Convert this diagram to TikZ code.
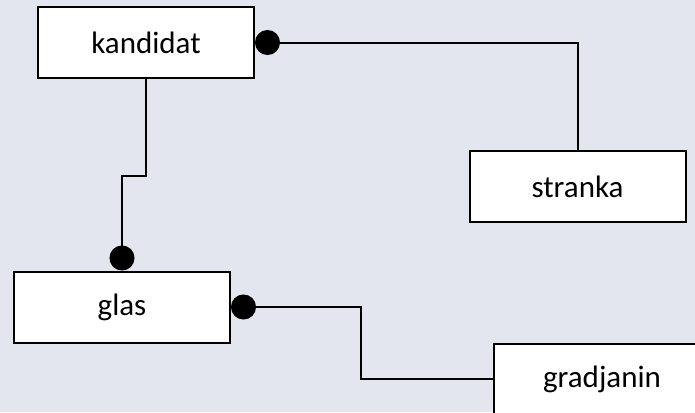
\documentclass[tikz,border=0pt]{standalone}
\usepackage{fontspec}
\setmainfont{Carlito}
\usetikzlibrary{arrows.meta}

\begin{document}
\begin{tikzpicture}[x=0.5pt, y=-0.5pt,
    entity/.style={draw, line width=1pt, fill=white, minimum width=108pt,
      minimum height=35.5pt, inner sep=0pt, font=\fontsize{15.5}{18}\selectfont},
    dotend/.style={line width=1pt, -{Circle[length=12.5pt]}}]
  % 背景与裁剪
  \fill[fill={rgb,255:red,228;green,230;blue,239}] (0,0) rectangle (695,412);
  \useasboundingbox (0,0) rectangle (695,412);
  \clip (0,0) rectangle (695,412);

  % 实体
  \node[entity] (kandidat) at (146,42.5) {kandidat};
  \node[entity] (stranka) at (577.5,186.5) {stranka};
  \node[entity] (glas) at (122,307) {glas};
  \node[entity] (gradjanin) at (602,379) {gradjanin};

  % 连线
  \draw[dotend] (stranka.north) |- (kandidat.east);
  \draw[dotend] (kandidat.south) -- ++(0,97) -| (glas.north);
  \draw[dotend] (gradjanin.west) -- ++(-132,0) |- (glas.east);
\end{tikzpicture}
\end{document}
